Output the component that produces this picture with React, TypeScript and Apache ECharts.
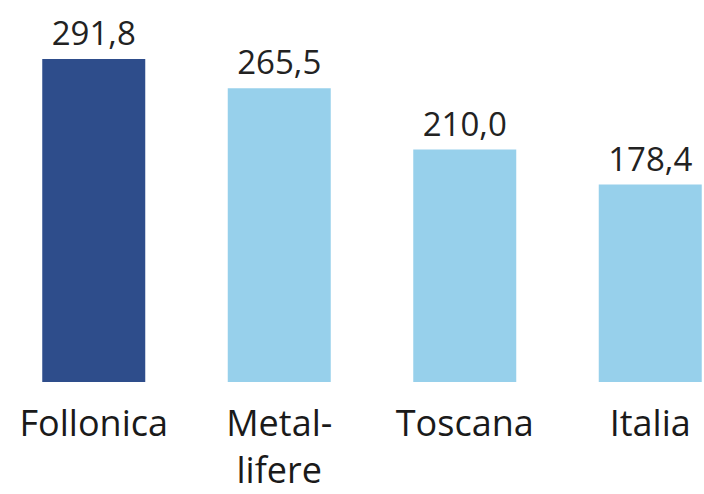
import React, { useEffect, useRef } from "react";
import * as echarts from "echarts";

const categories = ["Follonica", "Metal-\nlifere", "Toscana", "Italia"];
const values = [291.8, 265.5, 210.0, 178.4];
const barColors = ["#2E4D8B", "#97D0EB", "#97D0EB", "#97D0EB"];

export default function App() {
  const ref = useRef<HTMLDivElement>(null);
  useEffect(() => {
    const chart = echarts.init(ref.current!, null, { renderer: "svg" });
    chart.setOption({
      animation: false,
      grid: { left: 1, top: 50, width: 742, height: 332, outerBoundsMode: "none", containLabel: false },
      xAxis: {
        type: "category",
        data: categories,
        axisLine: { show: false },
        axisTick: { show: false },
        axisLabel: {
          interval: 0,
          hideOverlap: false,
          fontFamily: "Open Sans",
          fontSize: 36,
          color: "#1a1a1a",
          margin: 17,
          lineHeight: 47,
          verticalAlign: "top",
        },
      },
      yAxis: {
        type: "value",
        min: 0,
        max: 300,
        show: false,
        splitLine: { show: false },
      },
      series: [
        {
          type: "bar",
          barWidth: 103,
          data: values.map((v, i) => ({ value: v, itemStyle: { color: barColors[i] } })),
          label: {
            show: true,
            position: "top",
            distance: 10,
            fontFamily: "Open Sans",
            fontSize: 33,
            color: "#222",
            formatter: (p: any) => p.value.toFixed(1).replace(".", ","),
          },
        },
      ],
    });
    return () => chart.dispose();
  }, []);
  return (
    <div
      ref={ref}
      style={{ position: "fixed", left: 0, top: 0, width: 704, height: 494, background: "#fff" }}
    />
  );
}
